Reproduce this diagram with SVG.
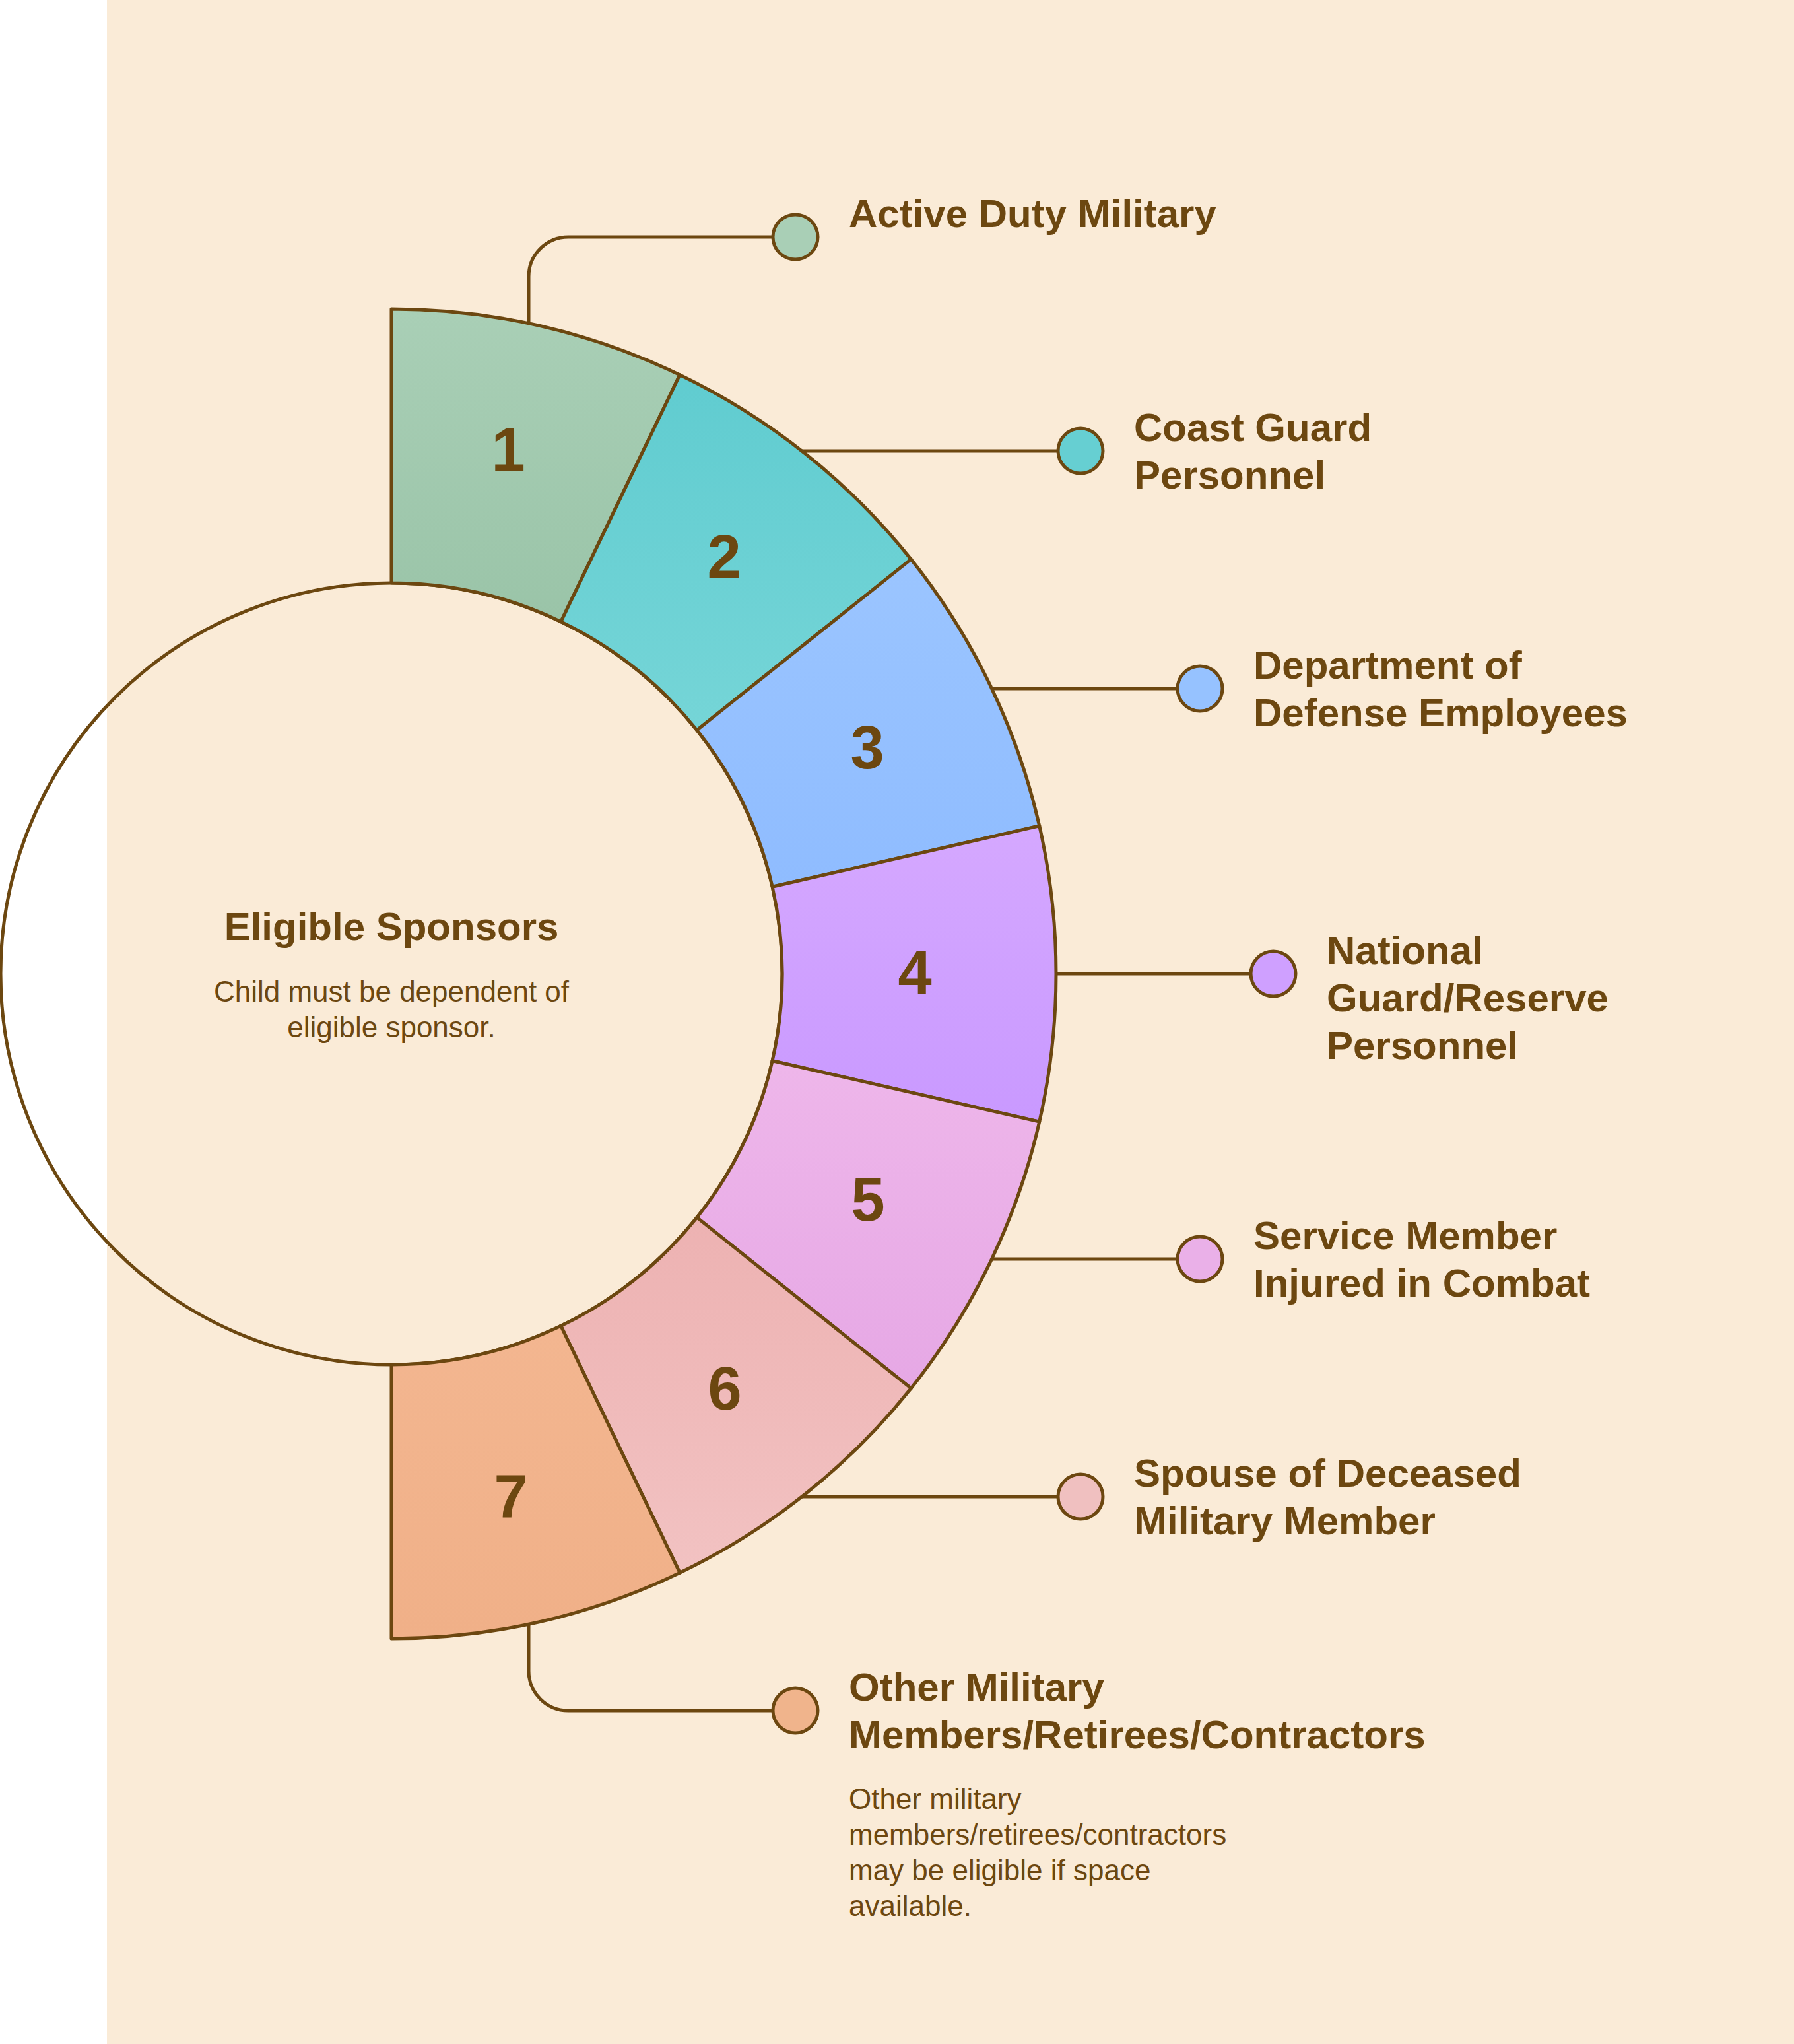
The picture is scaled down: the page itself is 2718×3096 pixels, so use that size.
<svg xmlns="http://www.w3.org/2000/svg" width="2718" height="3096" viewBox="0 0 2718 3096">
  <defs>
    <linearGradient id="g1" x1="0" y1="0" x2="0" y2="1"><stop offset="0" stop-color="#A9CFB6"/><stop offset="1" stop-color="#9AC4A8"/></linearGradient>
    <linearGradient id="g2" x1="0" y1="0" x2="0" y2="1"><stop offset="0" stop-color="#60CCD0"/><stop offset="1" stop-color="#75D5D7"/></linearGradient>
    <linearGradient id="g3" x1="0" y1="0" x2="0" y2="1"><stop offset="0" stop-color="#9BC5FF"/><stop offset="1" stop-color="#8FBCFF"/></linearGradient>
    <linearGradient id="g4" x1="0" y1="0" x2="0" y2="1"><stop offset="0" stop-color="#D5A8FF"/><stop offset="1" stop-color="#C999FF"/></linearGradient>
    <linearGradient id="g5" x1="0" y1="0" x2="0" y2="1"><stop offset="0" stop-color="#EEB6EA"/><stop offset="1" stop-color="#E6A8E5"/></linearGradient>
    <linearGradient id="g6" x1="0" y1="0" x2="0" y2="1"><stop offset="0" stop-color="#EDB2B2"/><stop offset="1" stop-color="#F2C2C2"/></linearGradient>
    <linearGradient id="g7" x1="0" y1="0" x2="0" y2="1"><stop offset="0" stop-color="#F3B690"/><stop offset="1" stop-color="#F0B088"/></linearGradient>
  </defs>
  <style>
    .seg { stroke: #6C4710; stroke-width: 5; stroke-linejoin: round; }
    .conn { fill: none; stroke: #6C4710; stroke-width: 5; }
    .dot { stroke: #6C4710; stroke-width: 5; }
    .num { font-family: "Liberation Sans", Arial, sans-serif; font-weight: bold; font-size: 92px; fill: #6C4710; text-anchor: middle; }
    .lbl { font-family: "Liberation Sans", Arial, sans-serif; font-weight: bold; font-size: 60px; fill: #6C4710; }
    .desc { font-family: "Liberation Sans", Arial, sans-serif; font-size: 44px; fill: #6C4710; }
    .title { font-family: "Liberation Sans", Arial, sans-serif; font-weight: bold; font-size: 60px; fill: #6C4710; text-anchor: middle; }
  </style>
  <rect x="0" y="0" width="2718" height="3096" fill="#FFFFFF"/>
  <rect x="162" y="0" width="2556" height="3096" fill="#FAEBD7"/>

  <g id="connectors">
    <path class="conn" d="M801 490 V419 A60 60 0 0 1 861 359 H1205"/>
    <path class="conn" d="M1215 683 H1637"/>
    <path class="conn" d="M1502 1043 H1818"/>
    <path class="conn" d="M1600 1475 H1929"/>
    <path class="conn" d="M1502 1907 H1818"/>
    <path class="conn" d="M1215 2267 H1637"/>
    <path class="conn" d="M801 2460 V2531 A60 60 0 0 0 861 2591 H1205"/>
  </g>

  <g id="center">
    <circle cx="593" cy="1475" r="592" fill="none" stroke="#6C4710" stroke-width="5"/>
    <text class="title" x="593" y="1424">Eligible Sponsors</text>
    <text class="desc" text-anchor="middle" x="593" y="1517">Child must be dependent of</text>
    <text class="desc" text-anchor="middle" x="593" y="1571">eligible sponsor.</text>
  </g>

  <g id="segment-1">
    <path class="seg" fill="url(#g1)" d="M593 468 A1007 1007 0 0 1 1029.92 567.72 L849.86 941.63 A592 592 0 0 0 593 883 Z"/>
    <text class="num" x="770" y="713">1</text>
  </g>
  <g id="segment-2">
    <path class="seg" fill="url(#g2)" d="M1029.92 567.72 A1007 1007 0 0 1 1380.30 847.15 L1055.84 1105.89 A592 592 0 0 0 849.86 941.63 Z"/>
    <text class="num" x="1097" y="875">2</text>
  </g>
  <g id="segment-3">
    <path class="seg" fill="url(#g3)" d="M1380.30 847.15 A1007 1007 0 0 1 1574.75 1250.92 L1170.16 1343.27 A592 592 0 0 0 1055.84 1105.89 Z"/>
    <text class="num" x="1314" y="1164">3</text>
  </g>
  <g id="segment-4">
    <path class="seg" fill="url(#g4)" d="M1574.75 1250.92 A1007 1007 0 0 1 1574.75 1699.08 L1170.16 1606.73 A592 592 0 0 0 1170.16 1343.27 Z"/>
    <text class="num" x="1386" y="1505">4</text>
  </g>
  <g id="segment-5">
    <path class="seg" fill="url(#g5)" d="M1574.75 1699.08 A1007 1007 0 0 1 1380.30 2102.85 L1055.84 1844.11 A592 592 0 0 0 1170.16 1606.73 Z"/>
    <text class="num" x="1315" y="1849">5</text>
  </g>
  <g id="segment-6">
    <path class="seg" fill="url(#g6)" d="M1380.30 2102.85 A1007 1007 0 0 1 1029.92 2382.28 L849.86 2008.37 A592 592 0 0 0 1055.84 1844.11 Z"/>
    <text class="num" x="1098" y="2135">6</text>
  </g>
  <g id="segment-7">
    <path class="seg" fill="url(#g7)" d="M1029.92 2382.28 A1007 1007 0 0 1 593 2482 L593 2067 A592 592 0 0 0 849.86 2008.37 Z"/>
    <text class="num" x="774" y="2298">7</text>
  </g>

  <g id="item-1">
    <circle class="dot" cx="1205" cy="359" r="34" fill="#A9CFB6"/>
    <text class="lbl" x="1286" y="344">Active Duty Military</text>
  </g>
  <g id="item-2">
    <circle class="dot" cx="1637" cy="683" r="34" fill="#66CFD2"/>
    <text class="lbl" x="1718" y="668">Coast Guard</text>
    <text class="lbl" x="1718" y="740">Personnel</text>
  </g>
  <g id="item-3">
    <circle class="dot" cx="1818" cy="1043" r="34" fill="#96C2FF"/>
    <text class="lbl" x="1899" y="1028">Department of</text>
    <text class="lbl" x="1899" y="1100">Defense Employees</text>
  </g>
  <g id="item-4">
    <circle class="dot" cx="1929" cy="1475" r="34" fill="#CFA0FF"/>
    <text class="lbl" x="2010" y="1460">National</text>
    <text class="lbl" x="2010" y="1532">Guard/Reserve</text>
    <text class="lbl" x="2010" y="1604">Personnel</text>
  </g>
  <g id="item-5">
    <circle class="dot" cx="1818" cy="1907" r="34" fill="#EAB0E8"/>
    <text class="lbl" x="1899" y="1892">Service Member</text>
    <text class="lbl" x="1899" y="1964">Injured in Combat</text>
  </g>
  <g id="item-6">
    <circle class="dot" cx="1637" cy="2267" r="34" fill="#F0C0C0"/>
    <text class="lbl" x="1718" y="2252">Spouse of Deceased</text>
    <text class="lbl" x="1718" y="2324">Military Member</text>
  </g>
  <g id="item-7">
    <circle class="dot" cx="1205" cy="2591" r="34" fill="#F0B48C"/>
    <text class="lbl" x="1286" y="2576">Other Military</text>
    <text class="lbl" x="1286" y="2648">Members/Retirees/Contractors</text>
    <text class="desc" x="1286" y="2740">Other military</text>
    <text class="desc" x="1286" y="2794">members/retirees/contractors</text>
    <text class="desc" x="1286" y="2848">may be eligible if space</text>
    <text class="desc" x="1286" y="2902">available.</text>
  </g>
</svg>
